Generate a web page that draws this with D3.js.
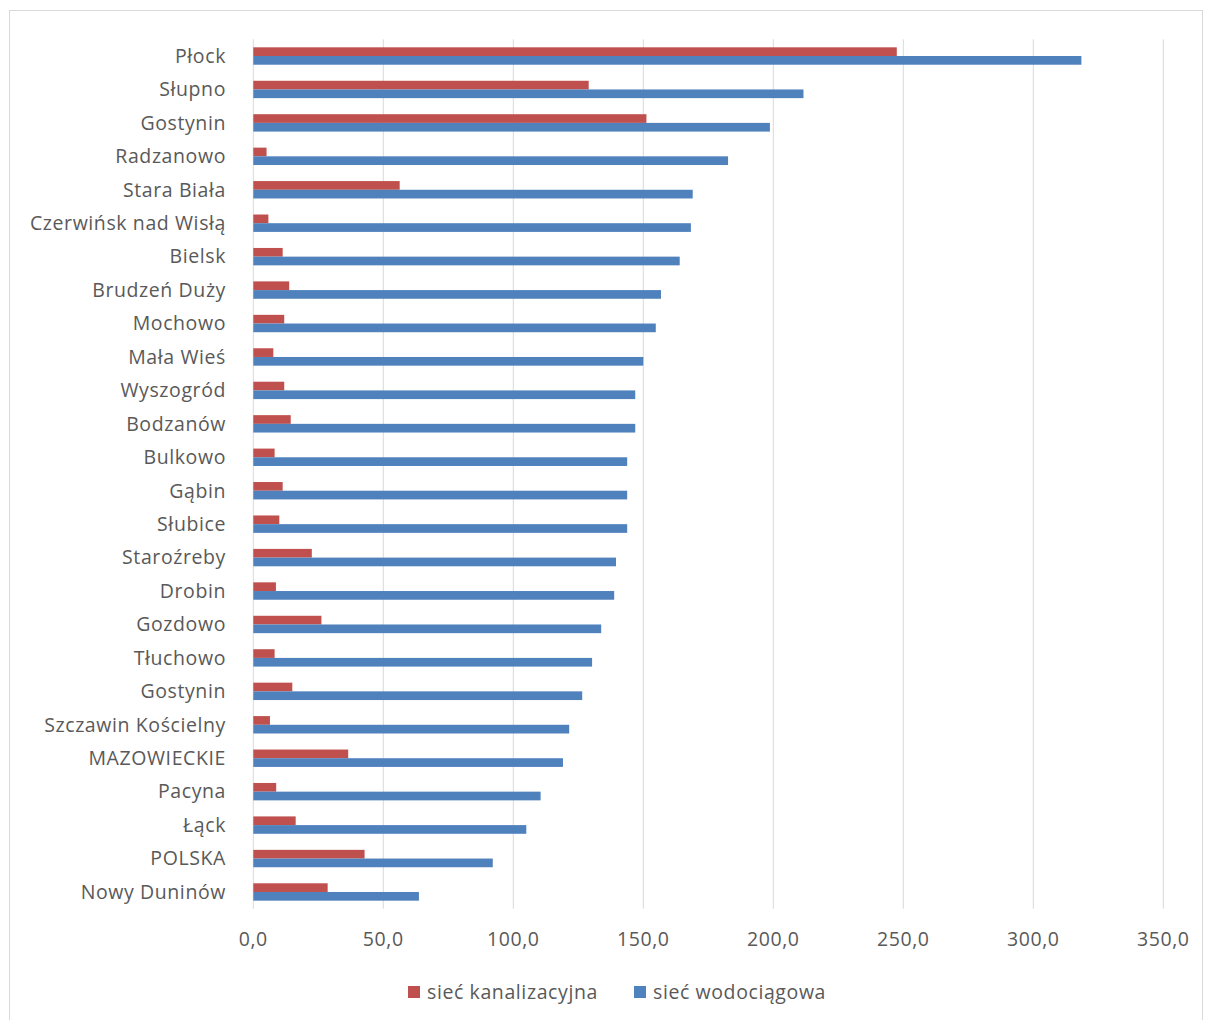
<!DOCTYPE html>
<html lang="pl">
<head>
<meta charset="utf-8">
<title>Sieć kanalizacyjna i wodociągowa</title>
<style>
	html, body { margin: 0; background: #fff; }
	svg { display: block; font-family: 'Open Sans', 'Noto Sans', sans-serif; }
</style>
</head>
<body>
<script src="https://cdn.jsdelivr.net/npm/d3@7/dist/d3.min.js"></script>
<script>
const categories = ['Płock', 'Słupno', 'Gostynin', 'Radzanowo', 'Stara Biała', 'Czerwińsk nad Wisłą',
	'Bielsk', 'Brudzeń Duży', 'Mochowo', 'Mała Wieś', 'Wyszogród', 'Bodzanów', 'Bulkowo', 'Gąbin',
	'Słubice', 'Staroźreby', 'Drobin', 'Gozdowo', 'Tłuchowo', 'Gostynin ', 'Szczawin Kościelny',
	'MAZOWIECKIE', 'Pacyna', 'Łąck', 'POLSKA', 'Nowy Duninów']
const kanalizacyjna = [247.5, 129.0, 151.2, 5.1, 56.3, 5.8, 11.3, 13.8, 11.9, 7.7, 11.9, 14.4, 8.2, 11.3,
	10.0, 22.5, 8.7, 26.2, 8.2, 15.0, 6.4, 36.5, 8.8, 16.3, 42.8, 28.6]
const wodociagowa = [318.5, 211.6, 198.7, 182.6, 169.0, 168.3, 164.0, 156.8, 154.8, 150.0, 146.9, 146.9, 143.8, 143.8,
	143.8, 139.5, 138.8, 133.8, 130.3, 126.5, 121.5, 119.1, 110.5, 105.0, 92.1, 63.7]
const seriesNames = ['sieć kanalizacyjna', 'sieć wodociągowa']
const seriesColors = ['#c0504d', '#4f81bd']
const xTicks = [0, 50, 100, 150, 200, 250, 300, 350]

const W = 1206, H = 1020
const plotLeft = 253.3, plotRight = 1163.3, plotTop = 39.3, plotBottom = 908.7
const textColor = '#595959'
const gridColor = '#d9d9d9'
const fontSize = 19.5
const spacing = 0.6

const svg = d3.select('body').append('svg')
	.attr('width', W)
	.attr('height', H)

// outer chart frame
svg.append('rect')
	.attr('x', 9.5).attr('y', 10.5)
	.attr('width', W - 13).attr('height', H)
	.attr('fill', 'none')
	.attr('stroke', gridColor)

const x = d3.scaleLinear().domain([0, 350]).range([plotLeft, plotRight])

const y = d3.scaleBand()
	.domain(categories)
	.range([plotTop, plotBottom])
	.paddingInner(0.48)
	.paddingOuter(0.24)

const ySub = d3.scaleBand()
	.domain(seriesNames)
	.range([0, y.bandwidth()])

const rows = categories.map((c, i) => ({
	name: c,
	values: [kanalizacyjna[i], wodociagowa[i]]
}))

// gridlines
svg.append('g').selectAll('line')
	.data(xTicks)
	.join('line')
	.attr('x1', d => x(d)).attr('x2', d => x(d))
	.attr('y1', plotTop).attr('y2', plotBottom)
	.attr('stroke', gridColor)
	.attr('stroke-width', 1)

// bars
const groups = svg.append('g').selectAll('g')
	.data(rows)
	.join('g')
	.attr('transform', d => `translate(0, ${y(d.name)})`)

groups.selectAll('rect')
	.data(d => d.values.map((v, j) => ({ v, s: seriesNames[j], j })))
	.join('rect')
	.attr('x', x(0))
	.attr('y', d => ySub(d.s))
	.attr('width', d => x(d.v) - x(0))
	.attr('height', ySub.bandwidth())
	.attr('fill', d => seriesColors[d.j])

// category labels
svg.append('g').selectAll('text')
	.data(categories)
	.join('text')
	.attr('x', 226)
	.attr('y', d => y(d) + y.bandwidth() / 2)
	.attr('dy', '0.35em')
	.attr('text-anchor', 'end')
	.attr('font-size', fontSize)
	.attr('letter-spacing', spacing)
	.attr('fill', textColor)
	.text(d => d.trim())

// x axis labels
const fmt = d => d3.format('.1f')(d).replace('.', ',')
svg.append('g').selectAll('text')
	.data(xTicks)
	.join('text')
	.attr('x', d => x(d))
	.attr('y', 939)
	.attr('dy', '0.35em')
	.attr('text-anchor', 'middle')
	.attr('font-size', fontSize)
	.attr('letter-spacing', spacing)
	.attr('fill', textColor)
	.text(fmt)

// legend
const legendX = [408, 634]
const legend = svg.append('g').selectAll('g')
	.data(seriesNames)
	.join('g')
	.attr('transform', (d, i) => `translate(${legendX[i]}, 992)`)

legend.append('rect')
	.attr('x', 0).attr('y', -6)
	.attr('width', 12).attr('height', 12)
	.attr('fill', (d, i) => seriesColors[i])

legend.append('text')
	.attr('x', 19)
	.attr('dy', '0.35em')
	.attr('font-size', fontSize)
	.attr('letter-spacing', spacing)
	.attr('fill', textColor)
	.text(d => d)
</script>
</body>
</html>
